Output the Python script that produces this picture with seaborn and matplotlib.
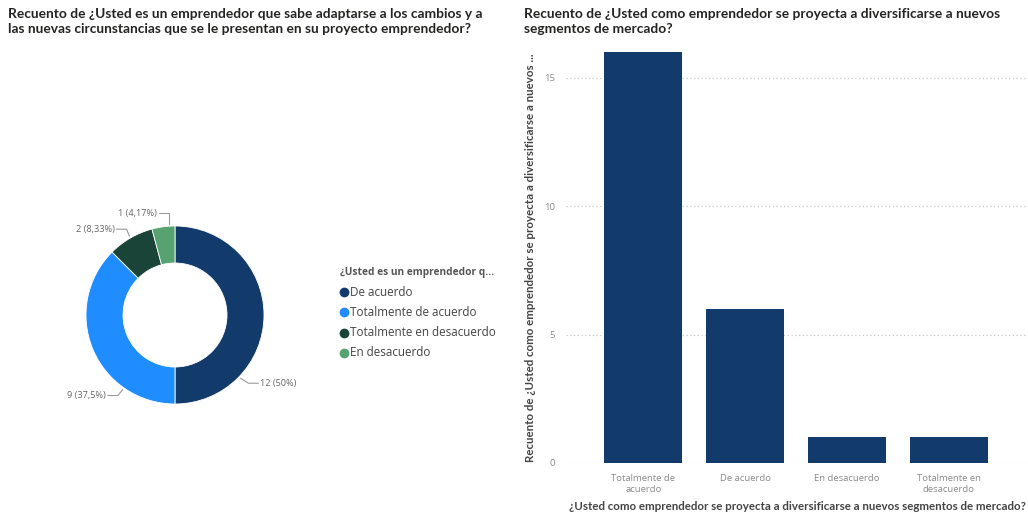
import matplotlib
matplotlib.use("Agg")
import matplotlib.pyplot as plt
import seaborn as sns
import pandas as pd
import numpy as np

# ---- data ----
pie_categories = ["De acuerdo", "Totalmente de acuerdo", "Totalmente en desacuerdo", "En desacuerdo"]
pie_values = [12, 9, 2, 1]
pie_labels = ["12 (50%)", "9 (37,5%)", "2 (8,33%)", "1 (4,17%)"]
pie_colors = ["#123B6C", "#1F8CFF", "#1A4438", "#56A270"]

bar_categories = ["Totalmente de\nacuerdo", "De acuerdo", "En desacuerdo", "Totalmente en\ndesacuerdo"]
bar_values = [16, 6, 1, 1]
bar_color = "#123B6C"
y_ticks = [0, 5, 10, 15]

title_left = ("Recuento de ¿Usted es un emprendedor que sabe adaptarse a los cambios y a\n"
              "las nuevas circunstancias que se le presentan en su proyecto emprendedor?")
title_right = ("Recuento de ¿Usted como emprendedor se proyecta a diversificarse a nuevos\n"
               "segmentos de mercado?")
legend_title = "¿Usted es un emprendedor q..."
ylabel = "Recuento de ¿Usted como emprendedor se proyecta a diversificarse a nuevos ..."
xlabel = "¿Usted como emprendedor se proyecta a diversificarse a nuevos segmentos de mercado?"

sns.set_theme(style="white")
plt.rcParams['font.family'] = ['Open Sans', 'DejaVu Sans']
LATO = ["Lato", "DejaVu Sans"]

W, H = 1028, 512
fig = plt.figure(figsize=(W / 100, H / 100), dpi=100)
fig.patch.set_facecolor("white")

def px(x, y):
    return x / W, 1 - y / H

# titles
fig.text(*px(8, 8), title_left, ha="left", va="top", fontsize=9.9, color="#252423",
         family=LATO, fontweight="bold", linespacing=1.3)
fig.text(*px(524, 8), title_right, ha="left", va="top", fontsize=9.9, color="#252423",
         family=LATO, fontweight="bold", linespacing=1.3)

# ---- donut ----
cx, cy, R = 175, 315, 89
half = 110
axp = fig.add_axes([(cx - half) / W, (H - cy - half) / H, 2 * half / W, 2 * half / H])
wedges, _ = axp.pie(pie_values, colors=pie_colors, startangle=90, counterclock=False,
                    radius=1.0, wedgeprops=dict(width=37 / R, edgecolor="white", linewidth=0.6))
lim = half / R
axp.set_xlim(-lim, lim)
axp.set_ylim(-lim, lim)
axp.set_aspect("equal")
axp.axis("off")

lab_specs = [
    # (anchor angle deg, elbow dx, elbow dy, horiz len, side)
    (-44, 8, 5, 10, "right"),
    (-125, -5, 6, 10, "left"),
    (120, -3, -7, 10, "left"),
    (94, 0, -11, 10, "left"),
]
line_col = "#9a9a9a"
for lab, (ang, edx, edy, hl, side) in zip(pie_labels, lab_specs):
    a = np.deg2rad(ang)
    x0 = cx + (R + 2) * np.cos(a)
    y0 = cy - (R + 2) * np.sin(a)
    x1, y1 = x0 + edx, y0 + edy
    x2 = x1 + (hl if side == "right" else -hl)
    fig.add_artist(plt.Line2D([x / W for x in (x0, x1, x2)], [1 - y / H for y in (y0, y1, y1)],
                              color=line_col, lw=0.8))
    fig.text(*px(x2 + (2 if side == "right" else -2), y1), lab,
             ha="left" if side == "right" else "right", va="center",
             fontsize=6.6, color="#666666")

# legend
fig.text(*px(340, 272), legend_title, ha="left", va="center", fontsize=7.3,
         color="#555555", fontweight="bold")
for i, (cat, col) in enumerate(zip(pie_categories, pie_colors)):
    yy = 292 + i * 20.3
    fig.add_artist(plt.Line2D([344 / W], [1 - yy / H], marker="o", markersize=6,
                              color=col, linestyle="none"))
    fig.text(*px(350, yy), cat, ha="left", va="center", fontsize=8.4, color="#444444")

# ---- bars ----
x_left, x_right = 566, 1028
y_top, y_bot = 52, 463
axb = fig.add_axes([x_left / W, (H - y_bot) / H, (x_right - x_left) / W, (y_bot - y_top) / H])
df = pd.DataFrame({"cat": bar_categories, "val": bar_values})
sns.barplot(data=df, x="cat", y="val", ax=axb, color=bar_color, width=0.765,
            saturation=1, edgecolor="none")
axb.set_xlim(-0.76, 3.78)
axb.set_ylim(0, 16)
axb.set_yticks(y_ticks)
axb.yaxis.grid(True, linestyle=(0, (1, 2)), color="#c8c8c8", linewidth=0.9)
axb.set_axisbelow(True)
for s in axb.spines.values():
    s.set_visible(False)
axb.tick_params(axis="both", length=0, labelsize=6.8, labelcolor="#8a8a8a")
axb.tick_params(axis="y", pad=8)
axb.tick_params(axis="x", pad=8)
axb.set_xlabel(xlabel, fontsize=8.3, color="#444444", fontweight="bold", family=LATO)
axb.xaxis.set_label_coords(0.5, -0.093)
axb.set_ylabel(ylabel, fontsize=8.3, color="#444444", fontweight="bold", family=LATO)
axb.yaxis.set_label_coords(-0.077, 0.5)
axb.yaxis.label.set_verticalalignment("center")

fig.savefig("out.png", dpi=100, facecolor="white")
